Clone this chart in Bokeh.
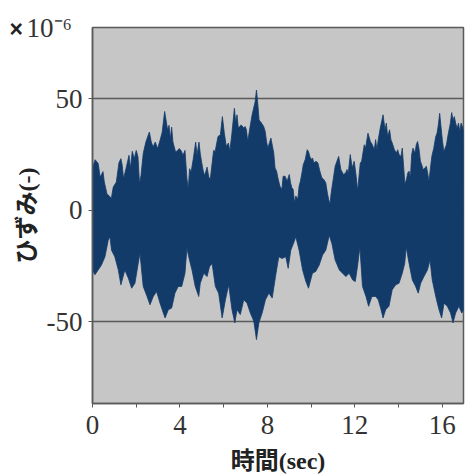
from bokeh.plotting import figure
from bokeh.models import Range1d, FixedTicker, Title, ColumnDataSource
from bokeh.embed import file_html
from bokeh.resources import INLINE

# ---- data (envelope of the strain record; x10^-6) ----
t_upper = [0.00, 0.12, 0.26, 0.35, 0.48, 0.54, 0.66, 0.81, 0.86, 0.95,
           1.09, 1.21, 1.30, 1.36, 1.42, 1.53, 1.67, 1.73, 1.82, 1.91,
           2.00, 2.08, 2.15, 2.22, 2.32, 2.44, 2.60, 2.69, 2.77, 2.87,
           2.98, 3.09, 3.19, 3.24, 3.30, 3.38, 3.44, 3.50, 3.56, 3.62,
           3.68, 3.74, 3.80, 3.90, 3.96, 4.05, 4.14, 4.23, 4.32, 4.38,
           4.44, 4.51, 4.61, 4.72, 4.78, 4.87, 4.93, 4.99, 5.06, 5.12,
           5.18, 5.24, 5.32, 5.39, 5.47, 5.54, 5.61, 5.74, 5.85, 5.94,
           6.03, 6.12, 6.22, 6.28, 6.37, 6.49, 6.55, 6.61, 6.67, 6.80,
           6.92, 6.98, 7.04, 7.10, 7.16, 7.30, 7.44, 7.50, 7.56, 7.62,
           7.73, 7.83, 7.90, 7.96, 8.02, 8.16, 8.29, 8.35, 8.42, 8.48,
           8.57, 8.66, 8.72, 8.81, 8.90, 9.00, 9.06, 9.12, 9.18, 9.24,
           9.30, 9.39, 9.45, 9.51, 9.58, 9.64, 9.73, 9.82, 9.88, 9.94,
           10.00, 10.06, 10.13, 10.22, 10.31, 10.40, 10.49, 10.58, 10.67, 10.74,
           10.80, 10.86, 10.92, 11.01, 11.10, 11.26, 11.36, 11.48, 11.58, 11.64,
           11.70, 11.79, 11.88, 11.97, 12.06, 12.13, 12.19, 12.25, 12.31, 12.37,
           12.43, 12.49, 12.60, 12.71, 12.80, 12.89, 12.95, 13.01, 13.07, 13.16,
           13.29, 13.38, 13.44, 13.50, 13.59, 13.65, 13.71, 13.81, 13.90, 13.96,
           14.02, 14.11, 14.17, 14.23, 14.29, 14.36, 14.42, 14.48, 14.54, 14.60,
           14.66, 14.75, 14.81, 14.87, 14.93, 15.00, 15.06, 15.12, 15.21, 15.27,
           15.33, 15.39, 15.45, 15.52, 15.61, 15.70, 15.76, 15.82, 15.88, 15.94,
           16.00, 16.07, 16.13, 16.19, 16.25, 16.31, 16.37, 16.43, 16.49, 16.55,
           16.61, 16.68, 16.74, 16.80, 16.86, 16.92, 16.98]
upper = [19.0, 22.6, 20.9, 14.8, 17.3, 12.6, 7.4, 5.9, 5.2, 10.4,
         12.6, 21.3, 23.1, 20.1, 14.1, 18.6, 24.6, 18.6, 26.4, 23.1,
         26.8, 23.9, 11.9, 15.6, 25.4, 30.5, 35.0, 30.5, 28.3, 30.5,
         27.6, 31.3, 35.0, 39.4, 44.2, 39.4, 35.7, 38.0, 32.0, 37.2,
         30.5, 28.3, 26.1, 26.8, 27.6, 26.8, 24.6, 26.8, 14.1, 9.6,
         18.6, 17.1, 23.1, 30.5, 24.6, 30.5, 25.4, 21.6, 17.9, 15.6,
         17.1, 19.3, 14.8, 14.1, 20.9, 26.8, 26.3, 33.0, 33.8, 41.9,
         34.5, 28.6, 30.1, 26.3, 33.8, 45.6, 39.4, 42.7, 36.8, 38.2,
         36.8, 37.5, 36.0, 30.8, 34.5, 42.7, 48.6, 53.8, 47.8, 40.4,
         39.0, 37.5, 35.3, 30.8, 27.8, 32.3, 25.6, 18.9, 17.5, 14.5,
         10.8, 9.3, 15.2, 15.2, 13.0, 16.0, 12.3, 10.1, 9.3, 3.4,
         6.4, 4.9, 10.8, 13.0, 16.7, 20.4, 22.7, 27.1, 26.3, 24.1,
         22.7, 23.4, 21.2, 21.9, 21.2, 17.5, 14.5, 13.8, 12.3, 7.9,
         4.9, 2.7, 7.9, 13.8, 19.7, 24.1, 18.2, 16.0, 16.7, 18.2,
         16.7, 24.9, 18.9, 21.9, 15.2, 8.6, 15.2, 21.2, 21.9, 25.6,
         29.3, 27.8, 34.5, 30.8, 29.3, 27.1, 31.6, 27.1, 31.6, 36.7,
         42.7, 36.0, 39.0, 33.0, 36.0, 31.6, 30.1, 27.1, 25.6, 27.1,
         24.9, 24.1, 27.8, 19.7, 11.6, 13.8, 16.7, 17.5, 14.5, 24.9,
         27.8, 25.6, 29.3, 30.8, 27.8, 21.9, 20.4, 18.2, 18.9, 19.7,
         16.7, 13.0, 18.2, 24.1, 27.8, 33.0, 34.5, 38.2, 43.4, 37.5,
         31.6, 26.3, 27.8, 29.3, 33.0, 36.0, 39.0, 43.7, 40.4, 41.9,
         39.0, 36.7, 39.0, 35.3, 39.0, 37.5, 35.3]

t_lower = [0.00, 0.11, 0.26, 0.41, 0.57, 0.72, 0.80, 0.87, 1.02, 1.18, 1.30, 1.48, 1.64, 1.79, 1.94,
           2.09, 2.17, 2.32, 2.47, 2.63, 2.78, 2.93, 3.09, 3.24, 3.32, 3.47, 3.62, 3.77, 3.92, 4.08,
           4.23, 4.32, 4.40, 4.55, 4.70, 4.86, 4.93, 5.09, 5.24, 5.35, 5.47, 5.62, 5.77, 5.93, 6.08,
           6.23, 6.38, 6.51, 6.61, 6.76, 6.92, 7.07, 7.22, 7.38, 7.50, 7.61, 7.76, 7.91, 8.07, 8.22,
           8.37, 8.52, 8.67, 8.84, 8.95, 9.07, 9.22, 9.30, 9.45, 9.61, 9.76, 9.88, 10.06, 10.21, 10.37,
           10.52, 10.67, 10.83, 10.95, 11.10, 11.29, 11.44, 11.59, 11.74, 11.90, 12.02, 12.13, 12.23,
           12.35, 12.51, 12.63, 12.78, 12.96, 13.07, 13.18, 13.29, 13.41, 13.56, 13.71, 13.87, 14.02,
           14.17, 14.28, 14.35, 14.48, 14.63, 14.78, 14.90, 15.01, 15.16, 15.32, 15.44, 15.54, 15.70,
           15.85, 15.97, 16.08, 16.23, 16.38, 16.49, 16.61, 16.76, 16.89, 16.98]
lower = [-26.7, -28.9, -26.7, -24.5, -20.8, -13.4, -11.9, -17.9, -20.8, -26.7, -33.4, -26.7, -30.4, -34.9, -32.7,
         -23.8, -19.3, -34.1, -37.9, -42.3, -38.6, -36.4, -41.6, -46.0, -48.2, -44.5, -43.8, -37.1, -34.1, -34.1,
         -28.2, -17.0, -20.8, -26.7, -34.1, -38.6, -32.7, -28.2, -29.7, -25.3, -23.8, -34.1, -37.1, -48.2, -40.1,
         -33.4, -44.5, -50.4, -44.5, -46.7, -40.1, -41.6, -46.0, -49.7, -57.9, -50.4, -46.0, -40.1, -37.1, -39.3,
         -29.7, -20.8, -21.6, -20.8, -26.0, -17.9, -14.1, -11.9, -17.9, -26.7, -31.9, -34.9, -28.2, -27.4, -24.5,
         -20.1, -17.9, -11.2, -14.9, -22.3, -26.7, -28.2, -29.7, -28.2, -31.2, -31.9, -24.5, -16.4,
         -34.1, -38.6, -43.0, -38.6, -38.6, -40.1, -43.8, -48.2, -44.5, -43.0, -35.6, -33.4, -32.7,
         -28.2, -23.8, -16.4, -23.8, -31.2, -34.1, -37.1, -32.7, -29.7, -26.7, -22.3, -31.2, -38.6,
         -44.5, -48.2, -41.6, -43.0, -46.0, -50.4, -46.0, -43.0, -46.0, -44.5]

x_ticks = [0, 4, 8, 12, 16]
x_minor = [2, 6, 10, 14]
y_ticks = [-50, 0, 50]
y_tick_labels = {-50: "-50", 0: "0", 50: "50"}
x_title = "時間(sec)"
y_title = "ひずみ(-)"
multiplier_sign = "×"
multiplier_text = "10⁻⁶"

SERIF = "Liberation Serif"
MIXED = "Liberation Serif, Noto Sans CJK JP"
NAVY = "#133b6a"
GREY = "#5a5a5a"

p = figure(width=466, height=476, output_backend="svg", toolbar_location=None,
           x_range=Range1d(0, 16.97), y_range=Range1d(-86.5, 81.8),
           min_border_left=92, min_border_right=3, min_border_top=27, min_border_bottom=70)

p.background_fill_color = "#c6c6c6"
p.border_fill_color = "white"
p.outline_line_color = GREY
p.outline_line_width = 1.5

src = ColumnDataSource(dict(x=t_upper + t_lower[::-1], y=upper + lower[::-1]))
p.patch(x="x", y="y", source=src, fill_color=NAVY, line_color=NAVY, line_width=0.8)

p.xgrid.visible = False
p.ygrid.ticker = FixedTicker(ticks=y_ticks)
p.ygrid.grid_line_color = GREY
p.ygrid.grid_line_width = 1.5

p.xaxis.ticker = FixedTicker(ticks=x_ticks, minor_ticks=x_minor)
p.yaxis.ticker = FixedTicker(ticks=y_ticks)
p.yaxis.major_label_overrides = y_tick_labels

for ax in (p.xaxis[0], p.yaxis[0]):
    ax.axis_line_color = GREY
    ax.axis_line_width = 1.5
    ax.major_tick_line_color = GREY
    ax.minor_tick_line_color = GREY
    ax.major_tick_out = 4
    ax.major_tick_in = 0
    ax.minor_tick_out = 4
    ax.minor_tick_in = 0
    ax.major_label_text_font = SERIF
    ax.major_label_text_font_size = "27px"
    ax.major_label_text_color = "#333333"
    ax.axis_label_text_font = MIXED
    ax.axis_label_text_font_style = "bold"
    ax.axis_label_text_font_size = "24px"
    ax.axis_label_text_color = "#222222"

p.yaxis.minor_tick_line_color = None
p.xaxis.axis_label = x_title
p.yaxis.axis_label = y_title
p.xaxis.major_label_standoff = 8
p.xaxis.axis_label_standoff = 11
p.yaxis.major_label_standoff = 6
p.yaxis.axis_label_standoff = 4

# multiplier "x10^-6" in the top-left corner (as titles, overhanging the frame)
p.title.text = multiplier_text
p.title.text_font = SERIF
p.title.text_font_size = "27px"
p.title.text_font_style = "normal"
p.title.text_color = "#333333"
p.title.align = "left"
p.title.offset = -66
p.title.standoff = -30

p.add_layout(Title(text=multiplier_sign, text_font="Liberation Sans", text_font_style="bold",
                   text_font_size="23px", text_color="#222222", align="left",
                   offset=-83, standoff=-29), "above")

open("out.html", "w").write(file_html(p, INLINE))
